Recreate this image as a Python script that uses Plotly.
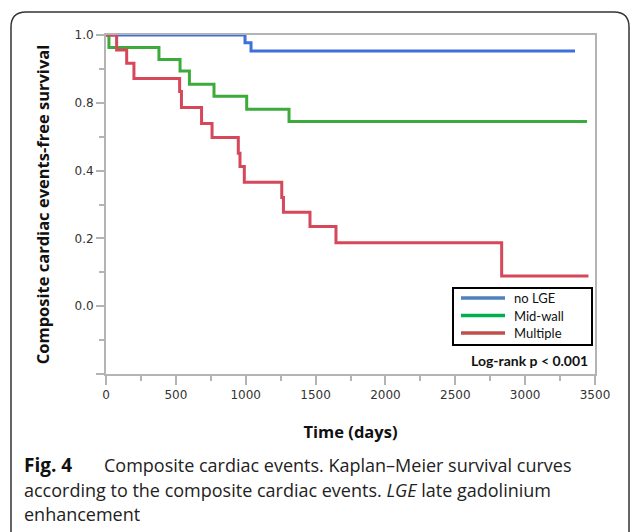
import plotly.graph_objects as go

# ---- data ----
groups = ["no LGE", "Mid-wall", "Multiple"]
nolge_days = [0, 995, 1038, 3357]
nolge_surv = [1.0, 0.977, 0.953, 0.953]
midwall_days = [0, 21, 379, 530, 597, 773, 1007, 1310, 3443]
midwall_surv = [1.0, 0.963, 0.928, 0.894, 0.855, 0.819, 0.781, 0.745, 0.745]
multiple_days = [0, 76, 148, 200, 527, 540, 684, 759, 947, 959, 990, 1258, 1270,
                 1460, 1646, 2832, 3453]
multiple_surv = [1.0, 0.956, 0.917, 0.872, 0.833, 0.786, 0.739, 0.698, 0.651, 0.612,
                 0.566, 0.521, 0.477, 0.435, 0.387, 0.289, 0.289]
x_ticks = [0, 500, 1000, 1500, 2000, 2500, 3000, 3500]
y_tickvals = [0.0, 0.2, 0.4, 0.6, 0.8, 1.0]
y_ticktext = ["", "0.0", "0.2", "0.4", "0.8", "1.0"]
logrank_text = "Log-rank p < 0.001"

curve_colors = ["#3F6FD8", "#3CAB3C", "#D6475A"]
legend_colors = ["#4F81BD", "#00B050", "#C0504D"]

W, H = 630, 532
L, R, T, B = 106, 595, 35, 374


def px(x):
    return (x - L) / (R - L)


def py(y):
    return (B - y) / (B - T)


fig = go.Figure()
for name, days, surv, c in [(groups[0], nolge_days, nolge_surv, curve_colors[0]),
                            (groups[1], midwall_days, midwall_surv, curve_colors[1]),
                            (groups[2], multiple_days, multiple_surv, curve_colors[2])]:
    fig.add_trace(go.Scatter(x=days, y=surv, mode="lines", line_shape="hv", name=name,
                             line=dict(color=c, width=3), showlegend=False,
                             hoverinfo="skip"))

axis_gray = "#B4B4B4"
fig.update_xaxes(range=[0, 3500], tickvals=x_ticks, ticks="outside", ticklen=9,
                 tickwidth=1.5, tickcolor=axis_gray, showline=True, linecolor=axis_gray,
                 linewidth=2, mirror=True, showgrid=False, zeroline=False,
                 layer="below traces",
                 tickfont=dict(family="DejaVu Sans", size=12, color="#333"),
                 minor=dict(tickvals=[250, 750, 1250, 1750, 2250, 2750, 3250],
                            ticks="outside", ticklen=5, tickcolor=axis_gray, tickwidth=1.5),
                 title=dict(text="<b>Time (days)</b>", standoff=25,
                            font=dict(family="Open Sans", size=16.5, color="#111")))
fig.update_yaxes(range=[0, 1.0], tickvals=y_tickvals, ticktext=y_ticktext,
                 ticks="outside", ticklen=8, tickwidth=1.5, tickcolor=axis_gray,
                 showline=True, linecolor=axis_gray, linewidth=2, mirror=True,
                 showgrid=False, zeroline=False, layer="below traces",
                 tickfont=dict(family="DejaVu Sans", size=12, color="#333"),
                 minor=dict(tickvals=[0.1, 0.3, 0.5, 0.7, 0.9], ticks="outside",
                            ticklen=5, tickcolor=axis_gray, tickwidth=1.5),
                 title=dict(text="<b>Composite cardiac events-free survival</b>",
                            standoff=21,
                            font=dict(family="Open Sans", size=16.5, color="#111")))

fig.update_layout(
    width=W, height=H,
    margin=dict(l=L, r=W - R, t=T, b=H - B),
    paper_bgcolor="white", plot_bgcolor="white",
    showlegend=False,
)

# Legend box (drawn as shapes + text)
fig.add_shape(type="rect", xref="paper", yref="paper",
              x0=px(453), x1=px(592), y0=py(345), y1=py(288),
              line=dict(color="black", width=2), fillcolor="white", layer="above")
for i, (name, c) in enumerate(zip(groups, legend_colors)):
    yy = 298 + i * 17.5
    fig.add_shape(type="line", xref="paper", yref="paper",
                  x0=px(461), x1=px(505), y0=py(yy), y1=py(yy),
                  line=dict(color=c, width=3.5), layer="above")
    fig.add_annotation(x=px(512), y=py(yy), xref="paper", yref="paper",
                       xanchor="left", yanchor="middle", showarrow=False, text=name,
                       font=dict(family="Lato", size=13, color="#111"))

# Log-rank annotation
fig.add_annotation(x=px(590), y=py(360), xref="paper", yref="paper",
                   xanchor="right", yanchor="middle", showarrow=False,
                   text="<b>" + logrank_text + "</b>",
                   font=dict(family="Lato", size=14, color="#111"))

# Rounded frame around figure + caption
path = (f"M {px(11)},{py(560)} L {px(11)},{py(27)} Q {px(11)},{py(12)} {px(26)},{py(12)} "
        f"L {px(614)},{py(12)} Q {px(629)},{py(12)} {px(629)},{py(27)} L {px(629)},{py(560)}")
fig.add_shape(type="path", path=path, xref="paper", yref="paper",
              line=dict(color="#333", width=1.5))

cap_font = dict(family="Open Sans", size=18, color="#222")
fig.add_annotation(x=px(22), y=py(465), xref="paper", yref="paper", xanchor="left",
                   yanchor="middle", showarrow=False, text="<b>Fig. 4</b>",
                   font=dict(family="Open Sans", size=19, color="#111"))
fig.add_annotation(x=px(102), y=py(465), xref="paper", yref="paper", xanchor="left",
                   yanchor="middle", showarrow=False,
                   text="Composite cardiac events. Kaplan–Meier survival curves",
                   font=cap_font)
fig.add_annotation(x=px(22), y=py(490), xref="paper", yref="paper", xanchor="left",
                   yanchor="middle", showarrow=False,
                   text="according to the composite cardiac events. <i>LGE</i> late gadolinium",
                   font=cap_font)
fig.add_annotation(x=px(22), y=py(514), xref="paper", yref="paper", xanchor="left",
                   yanchor="middle", showarrow=False, text="enhancement", font=cap_font)

fig.write_html("out.html", config={"displayModeBar": False},
               post_script="document.body.style.margin='0';")
